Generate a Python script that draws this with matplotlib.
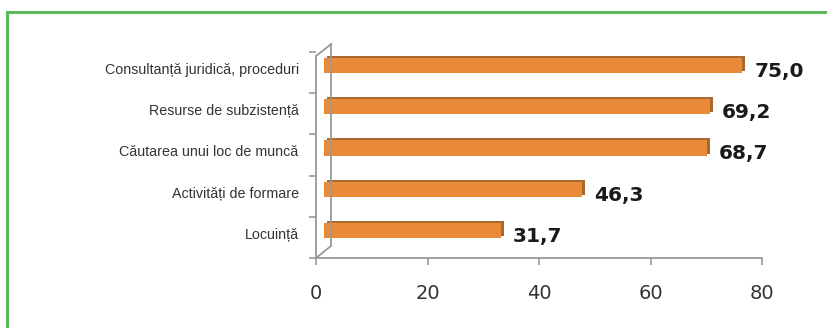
import matplotlib
matplotlib.use("Agg")
import matplotlib.pyplot as plt
from matplotlib.patches import Rectangle
from matplotlib.lines import Line2D
from matplotlib.transforms import ScaledTranslation

categories = ["Locuință", "Activități de formare", "Căutarea unui loc de muncă",
              "Resurse de subzistență", "Consultanță juridică, proceduri"]
values = [31.7, 46.3, 68.7, 69.2, 75.0]
value_labels = ["31,7", "46,3", "68,7", "69,2", "75,0"]
xticks = [0, 20, 40, 60, 80]

DPI = 100
fig = plt.figure(figsize=(8.27, 3.28), dpi=DPI)
fig.patch.set_facecolor("white")

# green frame
fig.patches.append(Rectangle((7/827, -0.1), 1.0, 1 - 12/328 + 0.1,
                             transform=fig.transFigure, fill=False,
                             edgecolor="#5cb85c", linewidth=2.2, clip_on=False))

ax = fig.add_axes([316/827, 70/328, (762-316)/827, (258-52)/328])
ypos = list(range(len(categories)))

def px(dx, dy):
    return ScaledTranslation(dx/DPI, dy/DPI, fig.dpi_scale_trans)

# 3D-ish depth (dark top/side) behind front face
ax.barh(ypos, values, height=0.37, color="#a9692e", linewidth=0,
        transform=ax.transData + px(11, 9))
ax.barh(ypos, values, height=0.37, color="#e98a38", linewidth=0,
        transform=ax.transData + px(8, 7))

for y, v, lab in zip(ypos, values, value_labels):
    ax.annotate(lab, (v, y), xytext=(20, 1), textcoords="offset pixels",
                va="center", ha="left", fontsize=14.5, fontweight="bold",
                color="#1a1a1a", family="DejaVu Sans")

ax.set_xlim(0, 80)
ax.set_ylim(-0.5, 4.5)
ax.set_xticks(xticks)
ax.set_xticklabels([str(t) for t in xticks], fontsize=14, color="#333333",
                   family="DejaVu Sans")
ax.set_yticks(ypos)
ax.set_yticklabels(categories, fontsize=10.3, color="#333333",
                   family="Liberation Sans")
ax.set_yticks([y - 0.5 for y in ypos] + [4.5], minor=True)
ax.tick_params(axis="y", which="major", length=0, pad=12.5)
ax.tick_params(axis="y", which="minor", length=5, color="#999999", width=1.2)
ax.tick_params(axis="x", length=5, color="#999999", width=1.2, pad=13.5)
for lbl in ax.get_yticklabels():
    lbl.set_transform(lbl.get_transform() + px(0, 4))

for s in ["top", "right"]:
    ax.spines[s].set_visible(False)
for s in ["left", "bottom"]:
    ax.spines[s].set_color("#999999")
    ax.spines[s].set_linewidth(1.3)
ax.spines["left"].set_bounds(-0.5, 4.4)

# back wall of the 3D frame
wall = dict(color="#999999", linewidth=1.3, clip_on=False)
ax.add_line(Line2D([0, 0], [-0.5, 4.4], transform=ax.transData + px(15, 12), **wall))
inv = ax.transData.inverted()
for yy in (-0.5, 4.4):
    x0, y0 = ax.transData.transform((0, yy))
    p1 = inv.transform((x0, y0))
    p2 = inv.transform((x0 + 15, y0 + 12))
    ax.add_line(Line2D([p1[0], p2[0]], [p1[1], p2[1]], **wall))

fig.savefig("out.png", dpi=DPI)
